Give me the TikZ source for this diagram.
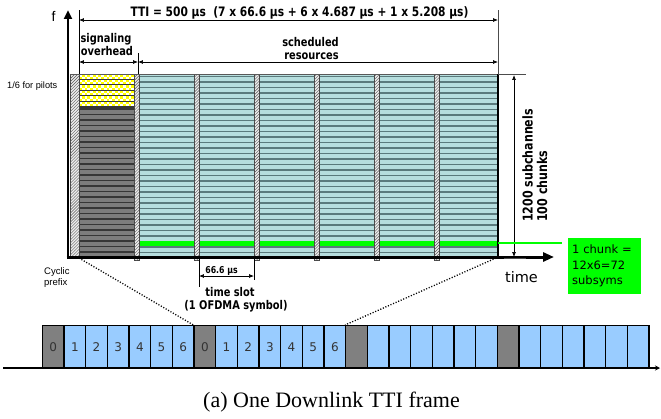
\documentclass[tikz,border=0pt]{standalone}
\usepackage{fontspec}
\setmainfont{Liberation Serif}
\newfontfamily\condf[FakeStretch=0.82]{DejaVu Sans}
\newfontfamily\dvf{DejaVu Sans}
\newfontfamily\arf{Liberation Sans}
\usetikzlibrary{arrows.meta,patterns}
\definecolor{cyanL}{RGB}{182,222,222}
\definecolor{cyanD}{RGB}{90,122,124}
\definecolor{grayL}{RGB}{125,125,125}
\definecolor{grayD}{RGB}{55,55,55}
\definecolor{cellblue}{RGB}{153,204,255}
\definecolor{cellgray}{RGB}{128,128,128}
\definecolor{chunkgreen}{RGB}{0,255,0}
\definecolor{pilotyellow}{RGB}{255,255,0}
\tikzset{
  hatchstrip/.style={fill=white!85!gray, postaction={pattern=north east lines, pattern color=gray!70!black}, draw=gray!55!black, line width=0.6},
  dimarrow/.style={line width=0.7, {Latex[length=5,width=4]}-{Latex[length=5,width=4]}},
  guideline/.style={line width=0.8},
  boldlab/.style={font=\condf\bfseries\fontsize{12bp}{14bp}\selectfont, inner sep=0pt, anchor=base},
  cellbox/.style={draw=black, line width=1.3, minimum width=21.67bp, minimum height=43bp, inner sep=0pt, anchor=north west, font=\dvf\fontsize{12bp}{14bp}\selectfont, text=black!80},
  dotline/.style={line width=1.3, dash pattern=on 1.1pt off 1.7pt},
  axisline/.style={line width=3},
}
\begin{document}
\begin{tikzpicture}[x=1bp,y=-1bp]
\useasboundingbox (0,0) rectangle (661,418);
% ---------- scheduled blocks (light cyan with stripes)
\fill[cyanL] (134,74) rectangle (498,257);
\foreach \y in {76.5,82,...,256} \draw[cyanD, line width=1.2] (134,\y) -- (498,\y);
% ---------- signalling overhead: pilots (yellow checker) and data (dark gray)
\fill[grayL] (79,107) rectangle (134,257);
\foreach \y in {109,114.5,...,256} \draw[grayD, line width=1.4] (79,\y) -- (134,\y);
\fill[pilotyellow] (79,74) rectangle (134,107);
\foreach \j in {0,...,11} {
  \pgfmathtruncatemacro\off{mod(\j,2)}
  \foreach \i in {0,...,9}
    \fill[white] ({79+(2*\i+\off)*2.75},{74+\j*2.75}) rectangle ++(2.75,2.75);
}
\foreach \y in {79,84.5,...,106} \draw[grayD, line width=0.9] (79,\y) -- (134,\y);
\draw[grayD, line width=1.2] (79,107) -- (134,107);
% ---------- green chunk row
\fill[chunkgreen] (139,241) rectangle (498,245.5);
% ---------- cyclic prefix strips
\draw[hatchstrip] (70,74) rectangle (79,257);
\foreach \x in {134,194,254,314,374,434}
  \draw[hatchstrip] (\x,74) rectangle (\x+5,260);
% ---------- frame borders
\draw[gray!70!black, line width=1] (70,74) -- (498,74);
\draw[black, line width=2] (498,74) -- (498,257);
% ---------- axes
\coordinate (fbase) at (68,259);
\coordinate (ftip) at (68,10);
\coordinate (tbase) at (66.5,257);
\coordinate (ttip) at (554,257);
\draw[axisline, -{Triangle[length=9,width=8]}] (fbase) -- (ftip);
\draw[axisline, -{Triangle[length=11,width=9]}] (tbase) -- (ttip);
\node[font=\arf\fontsize{14bp}{16bp}\selectfont, anchor=base, inner sep=0pt] (flab) at (53.5,21) {f};
\node[font=\dvf\fontsize{14.5bp}{16bp}\selectfont, anchor=base, inner sep=0pt] (timelab) at (521.5,282) {time};
% ---------- top dimensions
\coordinate (vl1) at (79,10);  \coordinate (vl1b) at (79,74);
\coordinate (vl2) at (498,10); \coordinate (vl2b) at (498,74);
\coordinate (vl3) at (138,53); \coordinate (vl3b) at (138,74);
\draw[guideline] (vl1) -- (vl1b);
\draw[guideline, gray!60!black] (vl2) -- (vl2b);
\draw[guideline] (vl3) -- (vl3b);
\coordinate (ttiL) at (79,20); \coordinate (ttiR) at (498,20);
\draw[dimarrow] (ttiL) -- (ttiR);
\node[font=\condf\bfseries\fontsize{13bp}{15bp}\selectfont, anchor=base, inner sep=0pt] (tti) at (299.5,16.5) {TTI = 500 μs\ \ (7 x 66.6 μs + 6 x 4.687 μs + 1 x 5.208 μs)};
\coordinate (ohL) at (79,62); \coordinate (ohR) at (138,62); \coordinate (srR) at (498,62);
\draw[dimarrow] (ohL) -- (ohR);
\draw[dimarrow] (ohR) -- (srR);
\node[boldlab] (sig1) at (106,42) {signaling};
\node[boldlab] (sig2) at (107,55) {overhead};
\node[boldlab] (sch1) at (310.5,46) {scheduled};
\node[boldlab] (sch2) at (311.5,59) {resources};
% ---------- left labels
\node[font=\arf\fontsize{9.2bp}{11bp}\selectfont, anchor=base west, inner sep=0pt] (pilots) at (7,88) {1/6 for pilots};
\node[font=\arf\fontsize{9.5bp}{11bp}\selectfont, anchor=base west, inner sep=0pt] (cyc1) at (44,274) {Cyclic};
\node[font=\arf\fontsize{9.5bp}{11bp}\selectfont, anchor=base west, inner sep=0pt] (cyc2) at (44,285) {prefix};
% ---------- time slot dimension
\coordinate (tsL) at (199,258); \coordinate (tsLb) at (199,287);
\coordinate (tsR) at (254,258); \coordinate (tsRb) at (254,280);
\draw[guideline] (tsL) -- (tsLb);
\draw[guideline] (tsR) -- (tsRb);
\coordinate (tsaL) at (199,276); \coordinate (tsaR) at (254,276);
\draw[dimarrow] (tsaL) -- (tsaR);
\node[font=\condf\bfseries\fontsize{9.5bp}{11bp}\selectfont, anchor=base, inner sep=0pt] (slotdur) at (221.5,273) {66.6 μs};
\node[boldlab] (slot1) at (230,296) {time slot};
\node[boldlab] (slot2) at (236,309) {(1 OFDMA symbol)};
% ---------- right dimension
\coordinate (rt1) at (498,74); \coordinate (rt2) at (526,74);
\coordinate (rb1) at (504,258.5); \coordinate (rb2) at (526,258.5);
\draw[gray!60!black, line width=0.8] (rt1) -- (rt2);
\draw[gray!60!black, line width=0.8] (rb1) -- (rb2);
\coordinate (rtop) at (514,75); \coordinate (rbot) at (514,257);
\draw[dimarrow] (rtop) -- (rbot);
\node[font=\condf\bfseries\fontsize{13.5bp}{15bp}\selectfont, rotate=90, anchor=base west, inner sep=0pt] (sub1) at (532.5,222) {1200 subchannels};
\node[font=\condf\bfseries\fontsize{13.5bp}{15bp}\selectfont, rotate=90, anchor=base west, inner sep=0pt] (sub2) at (547,222) {100 chunks};
% ---------- chunk callout
\node[fill=chunkgreen, anchor=north west, minimum width=73bp, minimum height=56bp, text width=65bp, align=left, inner sep=4bp, font=\dvf\fontsize{11.5bp}{15.5bp}\selectfont] (chunk) at (568,238) {1 chunk =\\12x6=72\\subsyms};
\coordinate (gl1) at (498,243); \coordinate (gl2) at (562,243);
\draw[chunkgreen, line width=1.6] (gl1) -- (gl2);
% ---------- bottom frame
\foreach \i in {0,...,27} {
  \pgfmathtruncatemacro\k{mod(\i,7)}
  \ifnum\k=0 \def\cf{cellgray}\else\def\cf{cellblue}\fi
  \node[cellbox, fill=\cf] (c\i) at ({41.7+21.67*\i},325) {\ifnum\i<14 \k\fi};
}
\coordinate (axL) at (3,368); \coordinate (axR) at (660,368);
\draw[line width=2.4, -{Stealth[length=5,width=5]}] (axL) -- (axR);
% ---------- zoom dotted lines
\coordinate (cpL) at (79,258); \coordinate (cpR) at (496,258);
\draw[dotline] (cpL) -- (c7.north west);
\draw[dotline] (cpR) -- (c14.north west);
% ---------- caption
\node[font=\fontsize{22bp}{26bp}\selectfont, anchor=base, inner sep=0pt] (caption) at (331.5,407) {(a) One Downlink TTI frame};
\end{tikzpicture}
\end{document}
